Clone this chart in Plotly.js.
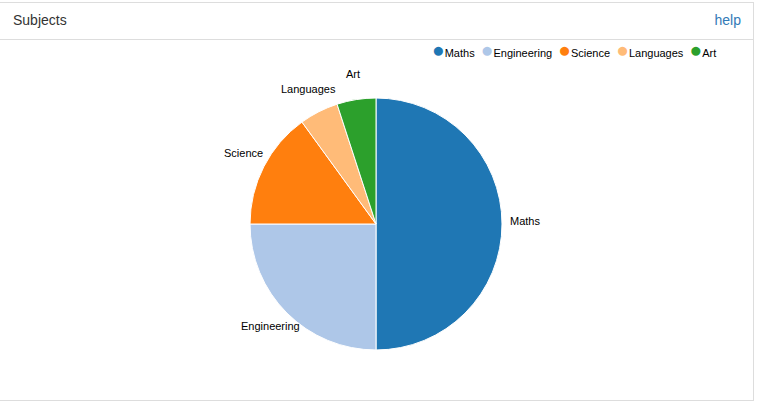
<!DOCTYPE html>
<html>
<head>
<meta charset="utf-8">
<script src="https://cdn.plot.ly/plotly-3.0.1.min.js"></script>
<style>
  html, body { margin: 0; padding: 0; background: #fff; width: 757px; height: 402px; overflow: hidden; font-family: "Liberation Sans", Arial, sans-serif; }
  #panel { position: absolute; left: -1px; top: 2px; width: 753px; height: 397px; border: 1px solid #ddd; }
  #head { position: absolute; left: 0; top: 0; width: 753px; height: 36px; border-bottom: 1px solid #ddd; }
  #title { position: absolute; left: 13px; top: 9px; font-size: 14px; color: #333; }
  #help { position: absolute; right: 12px; top: 9px; font-size: 14px; color: #337ab7; text-decoration: none; }
  #chart { position: absolute; left: 0px; top: 20px; width: 753px; height: 380px; }
</style>
</head>
<body>
<div id="panel">
  <div id="head"><span id="title">Subjects</span><a id="help" href="#">help</a></div>
</div>
<div id="chart"></div>
<script>
var categories = ["Maths", "Engineering", "Science", "Languages", "Art"];
var values = [50, 25, 15, 5, 5];
var colors = ["#1f77b4", "#aec7e8", "#ff7f0e", "#ffbb78", "#2ca02c"];

var W = 753, H = 380;
var dom = { x: [0.3320, 0.6667], y: [0.1316, 0.7947] };
var pieR = (dom.x[1] - dom.x[0]) * W / 2;
var labelR = pieR * 1.18;
var labelLift = 3; // px, text baseline offset
var cx = (dom.x[0] + dom.x[1]) / 2, cy = (dom.y[0] + dom.y[1]) / 2;
var FONT = "Liberation Sans, Arial, sans-serif";

var traces = [{
  type: "pie",
  labels: categories,
  values: values,
  sort: false,
  direction: "clockwise",
  rotation: 0,
  marker: { colors: colors, line: { color: "#ffffff", width: 1 } },
  textinfo: "none",
  showlegend: false,
  hoverinfo: "label+value",
  domain: dom
}];

// slice labels placed along each slice's mid angle, derived from the values
var total = values.reduce(function (a, b) { return a + b; }, 0);
var annotations = [];
var cum = 0;
values.forEach(function (v, i) {
  var mid = (cum + v / 2) / total * 2 * Math.PI;
  cum += v;
  annotations.push({
    xref: "paper", yref: "paper",
    x: cx + labelR * Math.sin(mid) / W,
    y: cy + (labelR * Math.cos(mid) + labelLift) / H,
    xanchor: "center", yanchor: "middle",
    text: categories[i], showarrow: false,
    font: { family: FONT, size: 11, color: "#000" }
  });
});

// compact legend built from the categories and colours
var NB = "\u00a0";
var legendText = categories.map(function (c, i) {
  return '<span style="color:' + colors[i] + ';font-size:21px">\u25CF</span>' + c;
}).join(NB + NB);
annotations.push({
  xref: "paper", yref: "paper", x: 718 / W, y: 1 - 29 / H,
  xanchor: "right", yanchor: "middle", showarrow: false,
  text: legendText,
  font: { family: FONT, size: 11, color: "#000" }
});

var layout = {
  width: W, height: H,
  margin: { l: 0, r: 0, t: 0, b: 0 },
  paper_bgcolor: "rgba(0,0,0,0)", plot_bgcolor: "rgba(0,0,0,0)",
  showlegend: false,
  annotations: annotations,
  font: { family: FONT, size: 11, color: "#000" }
};

Plotly.newPlot("chart", traces, layout, { displayModeBar: false });
</script>
</body>
</html>
